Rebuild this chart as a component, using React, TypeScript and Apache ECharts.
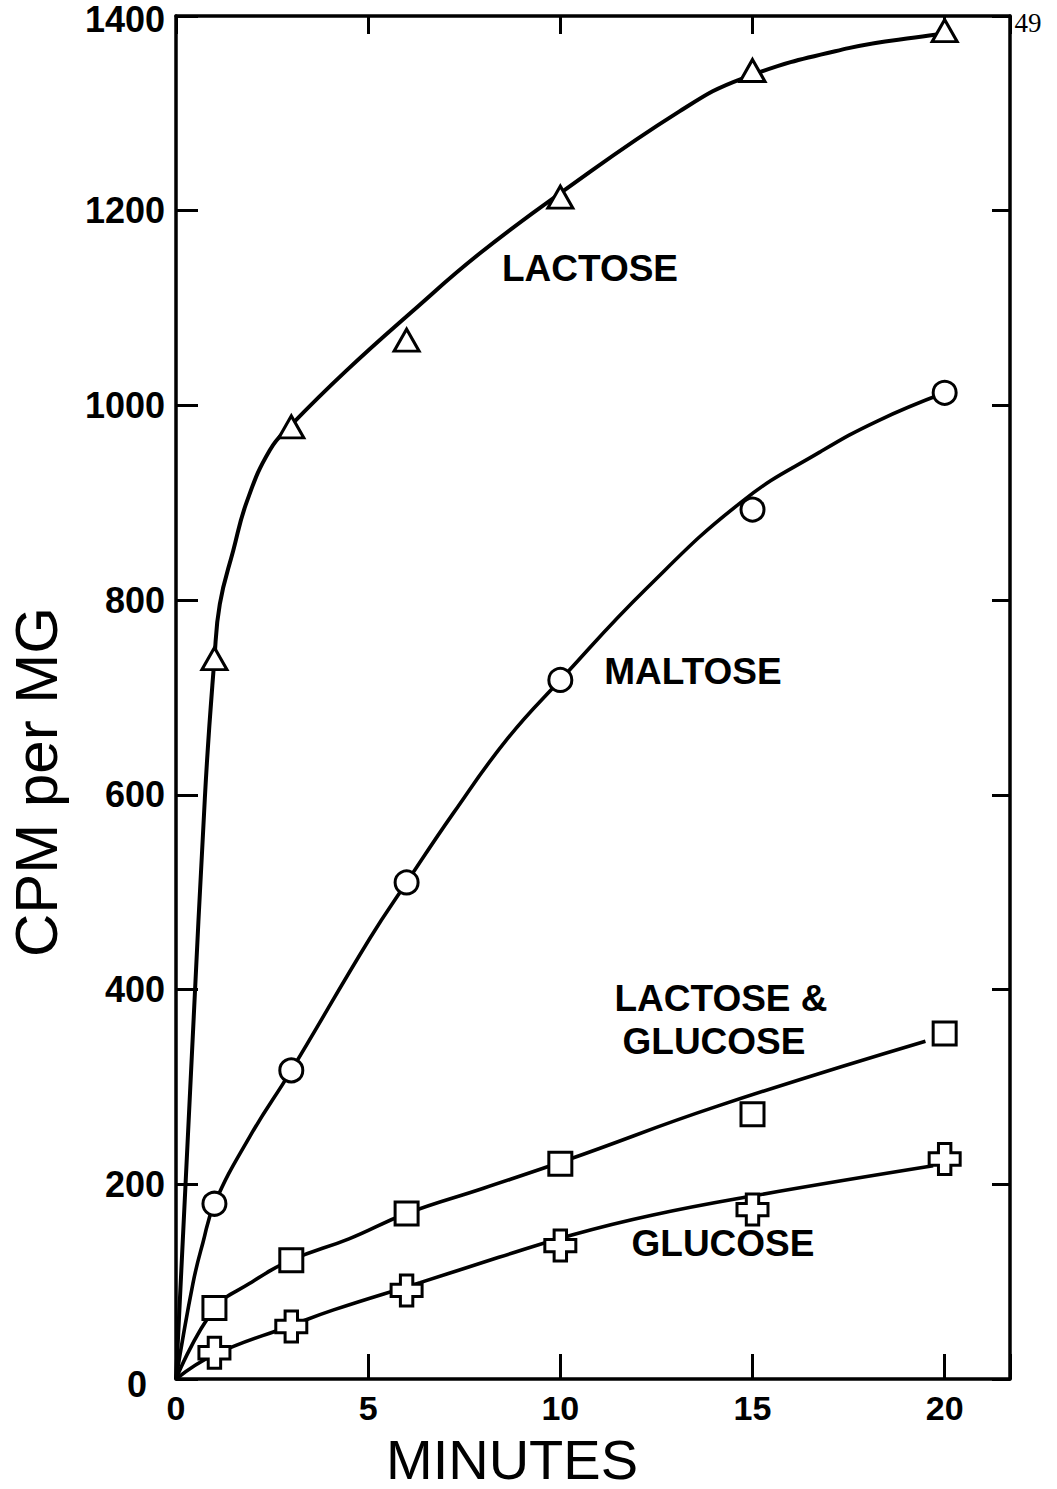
import React, { useEffect, useRef } from "react";
import * as echarts from "echarts";

// measured points (minutes, CPM per MG)
const minutes = [1, 3, 6, 10, 15, 20];
const lactosePts = [740, 978, 1067, 1214, 1344, 1385];
const maltosePts = [180, 317, 510, 718, 893, 1013];
const lacGluPts = [73, 122, 170, 221, 272, 355];
const glucosePts = [27, 54, 91, 137, 174, 226];

// hand-drawn fitted curves
const lactoseCurveX = [0, 0.75, 1, 1.14, 1.49, 1.85, 2.44, 3, 4.44, 6.16, 7.9, 10, 13.1, 14.75, 17.5, 19.6, 19.8];
const lactoseCurveY = [0, 596, 740, 796, 851, 902, 954, 980, 1036, 1097, 1156, 1218, 1302, 1336, 1367, 1380, 1381];
const maltoseCurveX = [0, 0.44, 0.7, 1, 1.92, 3, 5.05, 6, 7.23, 8.63, 10, 12.24, 14.75, 16.75, 18.25, 20];
const maltoseCurveY = [0, 98, 140, 180, 249, 317, 453, 510, 582, 658, 718, 812, 902, 952, 984, 1013];
const lacGluCurveX = [0, 1, 1.91, 3, 4.5, 6, 8, 10.25, 14.07, 19.5];
const lacGluCurveY = [0, 72, 98, 122, 144, 170, 196, 226, 280, 347];
const glucoseCurveX = [0, 1, 3, 4.1, 6.35, 8.4, 10.3, 12.35, 15, 19.7];
const glucoseCurveY = [0, 25, 55, 71, 99, 125, 148, 168, 188, 219];

const xTickMax = 20;
const yMax = 1400;
const xMax = 21.7;

const FONT = "'Liberation Sans', Arial, sans-serif";
const CROSS = "path://M9,0H21V9H30V21H21V30H9V21H0V9H9Z";

const zip = (xs: number[], ys: number[]) => xs.map((x, i) => [x, ys[i]]);

export default function App() {
  const ref = useRef<HTMLDivElement>(null);
  useEffect(() => {
    if (!ref.current) return;
    const chart = echarts.init(ref.current, undefined, { renderer: "svg" });
    const axisLine = { show: true, onZero: false, lineStyle: { color: "#000", width: 3.5 } };
    const curve = (name: string, xs: number[], ys: number[], w: number) => ({
      name,
      type: "line",
      data: zip(xs, ys),
      smooth: 0.45,
      showSymbol: false,
      symbol: "none",
      lineStyle: { color: "#000", width: w },
      z: 2,
      silent: true,
    });
    const marks = (name: string, ys: number[], symbol: string, size: any) => ({
      name,
      type: "scatter",
      data: zip(minutes, ys),
      symbol,
      symbolSize: size,
      itemStyle: { color: "#fff", borderColor: "#000", borderWidth: 3, opacity: 1 },
      z: 5,
    });
    const labelStyle = { color: "#000", fontFamily: FONT, fontWeight: "bold" };
    chart.setOption({
      animation: false,
      backgroundColor: "#fff",
      grid: { left: 176, top: 16, right: 47, bottom: 110, containLabel: false, outerBoundsMode: "none" },
      xAxis: [
        {
          type: "value",
          min: 0,
          max: xMax,
          interval: 5,
          position: "bottom",
          axisLine,
          axisTick: { show: true, inside: true, length: 25, lineStyle: { color: "#000", width: 3 } },
          axisLabel: {
            ...labelStyle,
            fontSize: 34,
            lineHeight: 30,
            margin: 14,
            formatter: (v: number) => (v > xTickMax ? "" : String(v)),
          },
          splitLine: { show: false },
        },
        {
          type: "value",
          min: 0,
          max: xMax,
          interval: 5,
          position: "top",
          axisLine,
          axisTick: { show: true, inside: true, length: 18, lineStyle: { color: "#000", width: 3 } },
          axisLabel: { show: false },
          splitLine: { show: false },
        },
      ],
      yAxis: [
        {
          type: "value",
          min: 0,
          max: yMax,
          interval: 200,
          position: "left",
          axisLine,
          axisTick: { show: true, inside: true, length: 22, lineStyle: { color: "#000", width: 3 } },
          axisLabel: {
            ...labelStyle,
            fontSize: 36,
            lineHeight: 30,
            margin: 11,
            formatter: (v: number) => (v === 0 ? "{z|0}" : v === yMax ? "{t|" + v + "}" : String(v)),
            rich: {
              z: { ...labelStyle, fontSize: 36, lineHeight: 30, padding: [10, 18, 0, 0] },
              t: { ...labelStyle, fontSize: 36, lineHeight: 28, padding: [6, 0, 0, 0] },
            },
          },
          splitLine: { show: false },
        },
        {
          type: "value",
          min: 0,
          max: yMax,
          interval: 200,
          position: "right",
          axisLine,
          axisTick: { show: true, inside: true, length: 18, lineStyle: { color: "#000", width: 3 } },
          axisLabel: { show: false },
          splitLine: { show: false },
        },
      ],
      series: [
        curve("Lactose curve", lactoseCurveX, lactoseCurveY, 4),
        curve("Maltose curve", maltoseCurveX, maltoseCurveY, 3.6),
        curve("Lactose & Glucose curve", lacGluCurveX, lacGluCurveY, 3.6),
        curve("Glucose curve", glucoseCurveX, glucoseCurveY, 3.6),
        marks("Lactose", lactosePts, "triangle", [25, 22]),
        marks("Maltose", maltosePts, "circle", 23),
        marks("Lactose & Glucose", lacGluPts, "rect", 23),
        marks("Glucose", glucosePts, CROSS, 31),
      ],
      graphic: [
        {
          type: "text",
          x: 36,
          y: 782,
          rotation: Math.PI / 2,
          style: { text: "CPM per MG", fontSize: 60, fontFamily: FONT, fill: "#000", align: "center", verticalAlign: "middle" },
        },
        {
          type: "text",
          x: 512,
          y: 1459,
          style: { text: "MINUTES", fontSize: 56, lineHeight: 52, fontFamily: FONT, fill: "#000", align: "center", verticalAlign: "middle" },
        },
        {
          type: "text",
          x: 590,
          y: 268,
          style: { text: "LACTOSE", fontSize: 37, fontWeight: "bold", fontFamily: FONT, fill: "#000", align: "center", verticalAlign: "middle" },
        },
        {
          type: "text",
          x: 693,
          y: 671,
          style: { text: "MALTOSE", fontSize: 37, fontWeight: "bold", fontFamily: FONT, fill: "#000", align: "center", verticalAlign: "middle" },
        },
        {
          type: "text",
          x: 721,
          y: 998,
          style: { text: "LACTOSE &", fontSize: 37, fontWeight: "bold", fontFamily: FONT, fill: "#000", align: "center", verticalAlign: "middle" },
        },
        {
          type: "text",
          x: 714,
          y: 1041,
          style: { text: "GLUCOSE", fontSize: 37, fontWeight: "bold", fontFamily: FONT, fill: "#000", align: "center", verticalAlign: "middle" },
        },
        {
          type: "text",
          x: 723,
          y: 1243,
          style: { text: "GLUCOSE", fontSize: 37, fontWeight: "bold", fontFamily: FONT, fill: "#000", align: "center", verticalAlign: "middle" },
        },
        {
          type: "text",
          x: 1028,
          y: 23,
          style: { text: "49", fontSize: 27, fontFamily: "'Liberation Serif', 'DejaVu Serif', serif", fill: "#000", align: "center", verticalAlign: "middle" },
        },
      ],
    });
    return () => chart.dispose();
  }, []);
  return (
    <div
      ref={ref}
      style={{ position: "fixed", left: 0, top: 0, width: 1057, height: 1489, background: "#fff" }}
    />
  );
}
